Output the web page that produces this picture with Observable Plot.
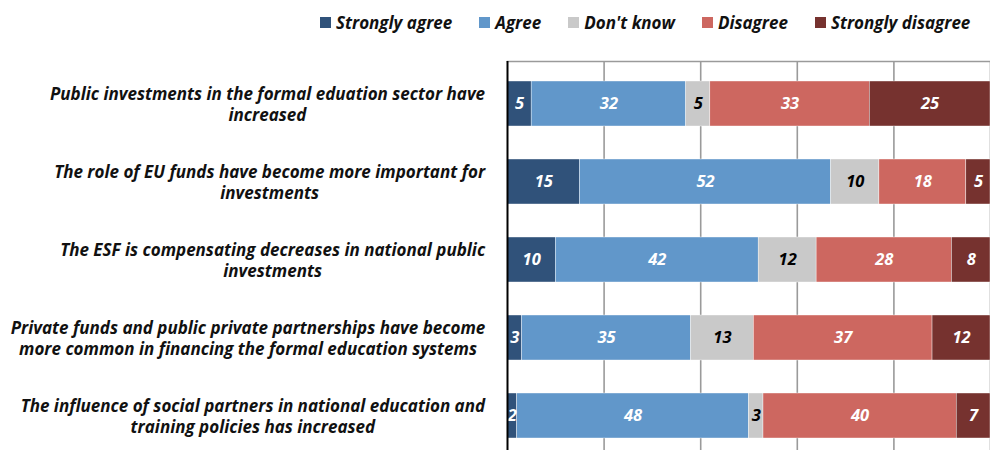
<!DOCTYPE html>
<html><head><meta charset="utf-8">
<script src="https://cdn.jsdelivr.net/npm/d3@7"></script>
<script src="https://cdn.jsdelivr.net/npm/@observablehq/plot@0.6"></script>
<style>
body{margin:0;overflow:hidden;background:#fff;font-family:"Open Sans",sans-serif;}
#legend{height:44px;display:flex;align-items:center;padding-left:320px;gap:27px;box-sizing:border-box;padding-top:1px;}
.item{display:flex;align-items:center;font:italic bold 17px "Open Sans",sans-serif;color:#111;}
.sw{width:11px;height:11px;margin-right:5px;flex:none;}
#chart svg{display:block;}
</style></head><body>
<div id="legend"></div><div id="chart"></div>
<script>
const categories = [
  "Public investments in the formal eduation sector have increased",
  "The role of EU funds have become more important for investments",
  "The ESF is compensating decreases in national public investments",
  "Private funds and public private partnerships have become more common in financing the formal education systems",
  "The influence of social partners in national education and training policies has increased"
];
const categoryLabels = [
  "Public investments in the formal eduation sector have\nincreased",
  "The role of EU funds have become more important for\ninvestments",
  "The ESF is compensating decreases in national public\ninvestments",
  "Private funds and public private partnerships have become\nmore common in financing the formal education systems",
  "The influence of social partners in national education and\ntraining policies has increased"
];
const responses = ["Strongly agree", "Agree", "Don't know", "Disagree", "Strongly disagree"];
const stronglyAgree    = [5, 15, 10, 3, 2];
const agree            = [32, 52, 42, 35, 48];
const dontKnow         = [5, 10, 12, 13, 3];
const disagree         = [33, 18, 28, 37, 40];
const stronglyDisagree = [25, 5, 8, 12, 7];
const gridTicks = [20, 40, 60, 80, 100];
const colors = ["#30527A", "#6197CA", "#C9C9C9", "#CD6760", "#76322F"];

const series = [stronglyAgree, agree, dontKnow, disagree, stronglyDisagree];
const data = categories.flatMap((c, i) => responses.map((r, j) => ({category: c, response: r, value: series[j][i]})));

// legend
const legend = document.getElementById("legend");
responses.forEach((r, j) => {
  const it = document.createElement("div");
  it.className = "item";
  const sw = document.createElement("span");
  sw.className = "sw";
  sw.style.background = colors[j];
  it.append(sw, document.createTextNode(r));
  legend.append(it);
});

const textOpts = {fontSize: 16.5, fontWeight: "bold", fontStyle: "italic"};
const stackOpts = {x: "value", y: "category", z: "response", order: responses, text: "value"};

const plot = Plot.plot({
  width: 990, height: 406,
  marginTop: 17, marginLeft: 507, marginRight: 0, marginBottom: 0,
  style: {fontFamily: "'Open Sans', sans-serif", background: "white", overflow: "hidden"},
  x: {domain: [0, 100], axis: null},
  y: {domain: categories, range: [17, 414], paddingInner: 0.42, paddingOuter: 0.23, axis: null},
  color: {domain: responses, range: colors},
  marks: [
    Plot.ruleX(gridTicks, {stroke: "#9a9a9a", strokeWidth: 1.6}),
    Plot.frame({anchor: "top", stroke: "#9a9a9a", strokeWidth: 1.6}),
    Plot.barX(data, Plot.stackX({x: "value", y: "category", fill: "response", order: responses, stroke: "white", strokeWidth: 0.4})),
    Plot.textX(data, Plot.filter(d => d.response !== "Don't know", Plot.stackX({...stackOpts, fill: "white", ...textOpts}))),
    Plot.textX(data, Plot.filter(d => d.response === "Don't know", Plot.stackX({...stackOpts, fill: "black", ...textOpts}))),
    Plot.ruleX([0], {stroke: "black", strokeWidth: 2}),
    Plot.axisY({
      tickSize: 0, tickPadding: 22, label: null,
      tickFormat: c => categoryLabels[categories.indexOf(c)],
      fontSize: 17, fontWeight: "bold", fontStyle: "italic", lineHeight: 1.24, fill: "#111"
    })
  ]
});
document.getElementById("chart").append(plot);
plot.querySelectorAll('g[aria-label="y-axis tick label"] text').forEach(t => {
  const w = t.getBBox().width;
  t.setAttribute("text-anchor", "middle");
  t.setAttribute("transform", (t.getAttribute("transform") || "") + ` translate(${-w / 2},0)`);
});
</script>
</body></html>
